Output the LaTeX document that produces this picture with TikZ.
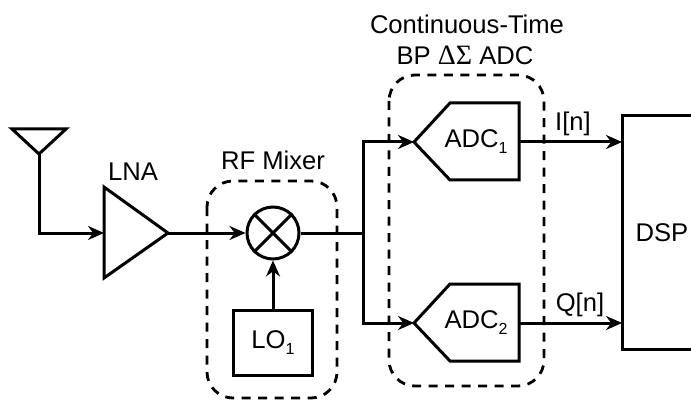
\documentclass[tikz,border=0pt]{standalone}
\usepackage{fontspec}
\setmainfont{Liberation Sans}
\newfontfamily\greekFont{Liberation Serif}
\usetikzlibrary{arrows.meta}
\tikzstyle{plan} = [x = 1pt, y = -1pt, line width = 3pt, >={Stealth[length=16pt,width=14pt]}]
\tikzstyle{blockLine} = [line width = 3pt, line join = miter]
\tikzstyle{signalLine} = [line width = 3pt]
\tikzstyle{groupBox} = [line width = 2.8pt, dash pattern = on 9pt off 7.5pt, rounded corners = 26pt]
\tikzstyle{labelText} = [font=\fontsize{25.6}{30}\selectfont, inner sep = 0pt, align = center]
\tikzstyle{mixerStyle} = [draw, circle, line width = 3pt, minimum size = 52pt, inner sep = 0pt]
\tikzstyle{loStyle} = [draw, line width = 3pt, minimum width = 79pt, minimum height = 65pt, inner sep = 0pt]
\newcommand{\sub}[1]{\raisebox{-6pt}{\fontsize{16}{16}\selectfont #1}}
\newcommand{\adcBlock}[3]{
  \coordinate (#1In) at (414,#2);
  \coordinate (#1Out) at (519,#2);
  \draw [blockLine] (#1In) -- (450,#2 - 39) -- (519,#2 - 39) -- (519,#2 + 38) -- (450,#2 + 38) -- cycle;
  \node [labelText] (#1Text) at (476,#2) {ADC\sub{#3}};
}
\begin{document}
\begin{tikzpicture}[plan]
  \useasboundingbox (0,0) rectangle (691,401);

  % antenna and LNA
  \coordinate (antennaTip) at (39,154);
  \coordinate (lnaIn) at (104,233);
  \coordinate (lnaOut) at (168,233);
  \draw [blockLine] (12,129) -- (66,129) -- (antennaTip) -- cycle;
  \draw [blockLine] (104,187) -- (lnaOut) -- (104,278) -- cycle;
  \draw [signalLine, ->] (antennaTip) |- (lnaIn);
  \node [labelText] (lnaText) at (133,172) {LNA};

  % mixer
  \node [mixerStyle] (mixer) at (273,233) {};
  \draw [signalLine] (mixer.45) -- (mixer.225);
  \draw [signalLine] (mixer.135) -- (mixer.315);
  \node [loStyle, labelText] (lo) at (273,343) {LO\sub{1}};
  \draw [signalLine, ->] (lnaOut) -- (mixer);
  \draw [signalLine, ->] (lo) -- (mixer);
  \draw [groupBox] (207,181) rectangle (337,398);
  \node [labelText] (mixerText) at (273,160) {RF Mixer};

  % ADCs
  \adcBlock{adcI}{142}{1}
  \adcBlock{adcQ}{323}{2}
  \coordinate (split) at (363,233);
  \draw [signalLine] (mixer) -- (split);
  \draw [signalLine, ->] (split) |- (adcIIn);
  \draw [signalLine, ->] (split) |- (adcQIn);
  \draw [groupBox] (389,75) rectangle (544,386);
  \node [labelText] (adcTextTop) at (467,24) {Continuous-Time};
  \node [labelText] (adcTextBottom) at (465,55) {BP {\greekFont\fontsize{28}{28}\selectfont ΔΣ} ADC};

  % DSP
  \coordinate (dspI) at (622,142);
  \coordinate (dspQ) at (622,323);
  \draw [blockLine] (691,116) -- (622,116) -- (622,349) -- (691,349);
  \node [labelText] (dsp) at (662,233) {DSP};
  \draw [signalLine, ->] (adcIOut) -- (dspI);
  \draw [signalLine, ->] (adcQOut) -- (dspQ);
  \node [labelText] (iText) at (573,124) {I[n]};
  \node [labelText] (qText) at (580,305) {Q[n]};
\end{tikzpicture}
\end{document}
